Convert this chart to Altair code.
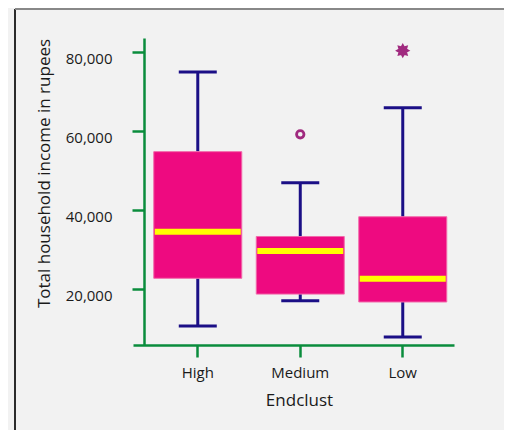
import math
import altair as alt
import pandas as pd

# ---- data ----
categories = ["High", "Medium", "Low"]
whisker_low = [10500, 16900, 7700]
q1 = [22600, 18600, 16600]
median = [34400, 29500, 22500]
q3 = [54700, 33200, 38200]
whisker_high = [74900, 46800, 65800]

outlier_cat = ["Medium", "Low"]
outlier_val = [59100, 80300]
outlier_kind = ["outlier", "extreme"]

y_ticks = [20000, 40000, 60000, 80000]

box_df = pd.DataFrame({
    "cat": categories, "lo": whisker_low, "q1": q1, "med": median,
    "q3": q3, "hi": whisker_high,
})
out_df = pd.DataFrame({"cat": outlier_cat, "val": outlier_val, "kind": outlier_kind})

# 8-point star path for the extreme value symbol
pts = []
for k in range(16):
    r = 1.0 if k % 2 == 0 else 0.62
    a = math.pi * k / 8
    pts.append(f"{r*math.cos(a):.3f},{r*math.sin(a):.3f}")
star = "M" + "L".join(pts) + "Z"

GREEN = "#0a8c3c"
NAVY = "#1b0f86"
PINK = "#ee0a80"
PURPLE = "#a02a7f"
FONT = "Open Sans"

x_enc = alt.X(
    "cat:N", sort=categories, title="Endclust",
    scale=alt.Scale(paddingInner=0, paddingOuter=0.066, align=1),
    axis=alt.Axis(
        labelAngle=0, domainColor=GREEN, domainWidth=2.5, tickColor=GREEN,
        tickWidth=2.5, tickSize=12, labelPadding=8, labelFont=FONT,
        labelFontSize=15, labelColor="#1a1a1a", titleFont=FONT,
        titleFontSize=17, titleFontWeight="normal", titleColor="#1a1a1a",
        titlePadding=12, titleX=166,
    ),
)
y_scale = alt.Scale(domain=[5700, 83500], nice=False, zero=False)
y_axis = alt.Axis(
    values=y_ticks, format=",.0f", grid=False, offset=-11,
    domainColor=GREEN, domainWidth=2.5, tickColor=GREEN, tickWidth=2.5,
    tickSize=12, labelPadding=20, labelFont=FONT, labelFontSize=15,
    labelColor="#1a1a1a", labelBaseline="top", titleFont=FONT,
    titleFontSize=17, titleFontWeight="normal", titleColor="#1a1a1a",
    titlePadding=12, titleY=135,
)

base = alt.Chart(box_df)

lower = base.mark_rule(color=NAVY, strokeWidth=3).encode(
    x=x_enc, y=alt.Y("lo:Q", scale=y_scale, axis=y_axis,
                     title="Total household income in rupees"),
    y2="q1:Q")
upper = base.mark_rule(color=NAVY, strokeWidth=3).encode(
    x=x_enc, y=alt.Y("q3:Q", scale=y_scale), y2="hi:Q")
cap_lo = base.mark_tick(color=NAVY, size=38, thickness=3, opacity=1).encode(
    x=x_enc, y=alt.Y("lo:Q", scale=y_scale))
cap_hi = base.mark_tick(color=NAVY, size=38, thickness=3, opacity=1).encode(
    x=x_enc, y=alt.Y("hi:Q", scale=y_scale))
box = base.mark_bar(size=88, color=PINK, stroke="#f26aaa", strokeWidth=1).encode(
    x=x_enc, y=alt.Y("q1:Q", scale=y_scale), y2="q3:Q")
med = base.mark_tick(color="#ffff00", size=86, thickness=6, opacity=1).encode(
    x=x_enc, y=alt.Y("med:Q", scale=y_scale))

outliers = alt.Chart(out_df).mark_point(opacity=1).encode(
    x=x_enc,
    y=alt.Y("val:Q", scale=y_scale),
    shape=alt.Shape("kind:N", scale=alt.Scale(domain=["outlier", "extreme"],
                                              range=["circle", star]), legend=None),
    fill=alt.Fill("kind:N", scale=alt.Scale(domain=["outlier", "extreme"],
                                            range=["#f2f2f2", PURPLE]), legend=None),
    size=alt.Size("kind:N", scale=alt.Scale(domain=["outlier", "extreme"],
                                            range=[55, 90]), legend=None),
    stroke=alt.value(PURPLE),
    strokeWidth=alt.value(2.8),
)

frame_left = alt.Chart(box_df).mark_rule(color="#111111", strokeWidth=1).encode(
    x=alt.value(-118), y=alt.value(-29), y2=alt.value(400))
frame_top = alt.Chart(box_df).mark_rule(color="#888888", strokeWidth=2).encode(
    x=alt.value(-118), x2=alt.value(400), y=alt.value(-29))

chart = alt.layer(
    frame_left, frame_top, lower, upper, cap_lo, cap_hi, box, med, outliers
).properties(
    width=321, height=307,
    autosize=alt.AutoSizeParams(type="none"),
    padding={"left": 125, "top": 30, "right": 50, "bottom": 85},
    background="#f2f2f2",
).configure_view(stroke=None)

chart.save("out.html", embed_options={"renderer": "svg", "actions": False})
